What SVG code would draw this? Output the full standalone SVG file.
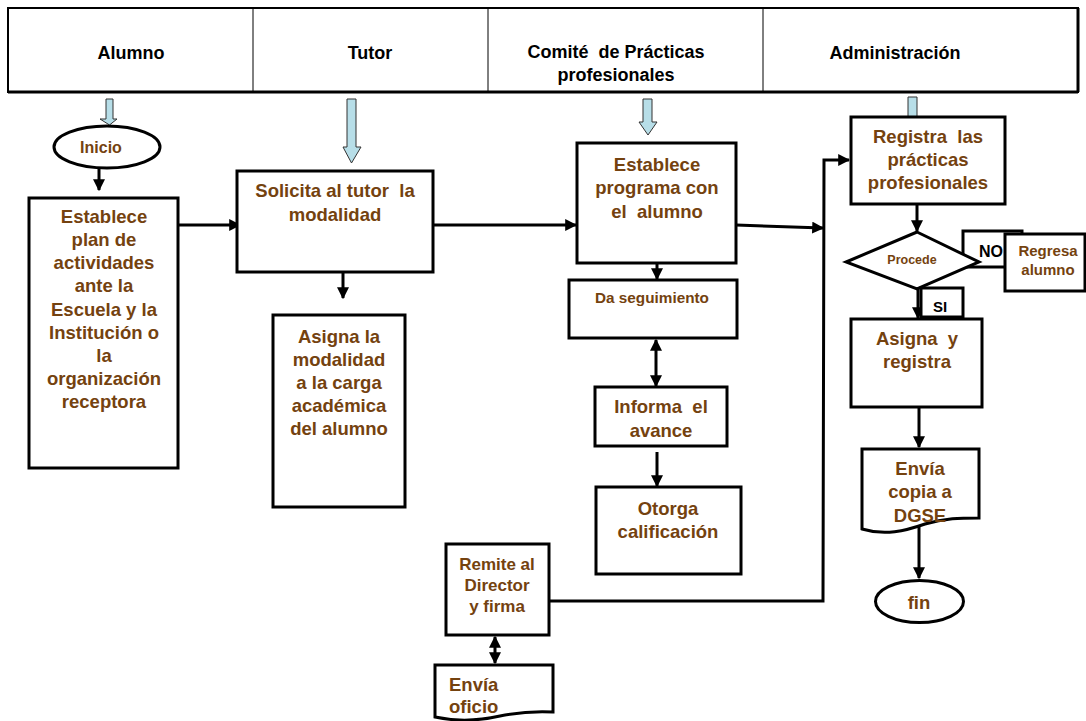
<svg xmlns="http://www.w3.org/2000/svg" width="1086" height="721" viewBox="0 0 1086 721">
<defs>
<marker id="ah" markerUnits="userSpaceOnUse" markerWidth="12" markerHeight="12" viewBox="0 0 10 10" refX="9" refY="5" orient="auto-start-reverse"><path d="M0,0 L10,5 L0,10 z" fill="#000"/></marker>
<style>
.box{fill:#fff;stroke:#000;stroke-width:3}
.t{font-family:"Liberation Sans",Arial,sans-serif;font-weight:bold;fill:#74420f;text-anchor:middle;white-space:pre}
.h{font-family:"Liberation Sans",Arial,sans-serif;font-weight:bold;fill:#000;text-anchor:middle;font-size:18px;white-space:pre}
.c{fill:none;stroke:#000;stroke-width:3}
.ba{fill:#b7dee8;stroke:#333;stroke-width:1}
</style>
</defs>
<rect width="1086" height="721" fill="#fff"/>
<g id="header">
<rect x="8" y="8" width="1070" height="84" fill="#fff" stroke="#000" stroke-width="2"/>
<line x1="8" y1="92" x2="1078" y2="92" stroke="#000" stroke-width="3"/>
<line x1="1078" y1="8" x2="1078" y2="92" stroke="#000" stroke-width="3"/>
<line x1="253" y1="8" x2="253" y2="92" stroke="#000" stroke-width="1"/>
<line x1="488" y1="8" x2="488" y2="92" stroke="#000" stroke-width="1"/>
<line x1="763" y1="8" x2="763" y2="92" stroke="#000" stroke-width="1"/>
<text class="h" x="131" y="59">Alumno</text>
<text class="h" x="370" y="59">Tutor</text>
<text class="h" x="616" y="58">Comité  de Prácticas</text>
<text class="h" x="616" y="81">profesionales</text>
<text class="h" x="895" y="59">Administración</text>
</g>
<g id="lane-arrows">
<polygon class="ba" points="106,99 113,99 113,119 117,119 109.5,125 100,119 106,119"/>
<polygon class="ba" points="347,99 356,99 356,147 361,147 351.5,163 343,147 347,147"/>
<polygon class="ba" points="643,99 652,99 652,122 657,122 648,135 639,122 643,122"/>
<polygon class="ba" points="908,97 917,97 917,117 920,117 912.5,123 905,117 908,117"/>
</g>
<g id="connectors">
<line class="c" x1="99" y1="168" x2="99" y2="190" marker-end="url(#ah)"/>
<line class="c" x1="178" y1="225" x2="240" y2="225" marker-end="url(#ah)"/>
<line class="c" x1="343" y1="272" x2="343" y2="298" marker-end="url(#ah)"/>
<line class="c" x1="433" y1="225" x2="576" y2="225" marker-end="url(#ah)"/>
<line class="c" x1="736" y1="225" x2="823" y2="228" marker-end="url(#ah)"/>
<path class="c" d="M549,601 L823,601 L824,160 L849,160" marker-end="url(#ah)"/>
<line class="c" x1="657" y1="263" x2="657" y2="279" marker-end="url(#ah)"/>
<line class="c" x1="656" y1="340" x2="656" y2="386" marker-start="url(#ah)" marker-end="url(#ah)"/>
<line class="c" x1="657" y1="452" x2="657" y2="486" marker-end="url(#ah)"/>
<line class="c" x1="495" y1="637" x2="495" y2="663" marker-start="url(#ah)" marker-end="url(#ah)"/>
<line class="c" x1="917" y1="204" x2="917" y2="231" marker-end="url(#ah)"/>
<line class="c" x1="979" y1="262" x2="1004" y2="262" marker-end="url(#ah)"/>
<line class="c" x1="918" y1="289" x2="918" y2="318" marker-end="url(#ah)"/>
<line class="c" x1="919" y1="407" x2="919" y2="447" marker-end="url(#ah)"/>
<line class="c" x1="919" y1="522" x2="919" y2="578" marker-end="url(#ah)"/>
</g>
<g id="inicio">
<ellipse class="box" cx="107" cy="147" rx="53" ry="21"/>
<text class="t" x="101" y="153" font-size="16">Inicio</text>
</g>
<g id="establece-plan">
<rect class="box" x="29" y="198" width="149" height="270"/>
<text class="t" font-size="18.5"><tspan x="104" y="223">Establece</tspan><tspan x="104" y="246">plan de</tspan><tspan x="104" y="269">actividades</tspan><tspan x="104" y="292">ante la</tspan><tspan x="104" y="316">Escuela y la</tspan><tspan x="104" y="339">Institución o</tspan><tspan x="104" y="362">la</tspan><tspan x="104" y="385">organización</tspan><tspan x="104" y="408">receptora</tspan></text>
</g>
<g id="solicita">
<rect class="box" x="237" y="171" width="196" height="101"/>
<text class="t" font-size="18.5"><tspan x="335" y="197">Solicita al tutor  la</tspan><tspan x="335" y="221">modalidad</tspan></text>
</g>
<g id="asigna-modalidad">
<rect class="box" x="273" y="315" width="132" height="192"/>
<text class="t" font-size="18.5"><tspan x="339" y="343">Asigna la</tspan><tspan x="339" y="366">modalidad</tspan><tspan x="339" y="389">a la carga</tspan><tspan x="339" y="412">académica</tspan><tspan x="339" y="435">del alumno</tspan></text>
</g>
<g id="establece-programa">
<rect class="box" x="577" y="143" width="159" height="120"/>
<text class="t" font-size="18.5"><tspan x="657" y="171">Establece</tspan><tspan x="657" y="194">programa con</tspan><tspan x="657" y="218">el  alumno</tspan></text>
</g>
<g id="da-seguimiento">
<rect class="box" x="569" y="280" width="168" height="58"/>
<text class="t" x="652" y="303" font-size="15.3">Da seguimiento</text>
</g>
<g id="informa">
<rect class="box" x="595" y="387" width="132" height="59"/>
<text class="t" font-size="18.5"><tspan x="661" y="413">Informa  el</tspan><tspan x="661" y="437">avance</tspan></text>
</g>
<g id="otorga">
<rect class="box" x="596" y="487" width="145" height="87"/>
<text class="t" font-size="18.5"><tspan x="668" y="515">Otorga</tspan><tspan x="668" y="538">calificación</tspan></text>
</g>
<g id="remite">
<rect class="box" x="446" y="544" width="103" height="91"/>
<text class="t" font-size="17"><tspan x="497" y="570">Remite al</tspan><tspan x="497" y="591">Director</tspan><tspan x="497" y="612">y firma</tspan></text>
</g>
<g id="envia-oficio">
<path class="box" d="M435,665 L553,665 L553,712 C535,711 520,712 500,716 C478,721 458,722 435,717 Z"/>
<text class="t" font-size="18.5" style="text-anchor:start"><tspan x="449" y="691">Envía</tspan><tspan x="449" y="713">oficio</tspan></text>
</g>
<g id="registra">
<rect class="box" x="851" y="117" width="154" height="87"/>
<text class="t" font-size="18.5"><tspan x="928" y="143">Registra  las</tspan><tspan x="928" y="166">prácticas</tspan><tspan x="928" y="189">profesionales</tspan></text>
</g>
<g id="no-label">
<rect x="963" y="231" width="59" height="36" fill="#fff" stroke="#000" stroke-width="3"/>
<text class="t" x="991" y="257" font-size="16" style="fill:#000">NO</text>
</g>
<g id="procede">
<polygon class="box" points="917,232 979,262 917,289 846,262"/>
<text class="t" x="912" y="264" font-size="12.5">Procede</text>
</g>
<g id="regresa">
<rect class="box" x="1005" y="234" width="80" height="57"/>
<text class="t" font-size="15"><tspan x="1048" y="256">Regresa</tspan><tspan x="1048" y="275">alumno</tspan></text>
</g>
<g id="si-label">
<rect x="921" y="288" width="42" height="29" fill="#fff" stroke="#000" stroke-width="3"/>
<text class="t" x="940" y="312" font-size="15" style="fill:#000">SI</text>
</g>
<g id="asigna-registra">
<rect class="box" x="851" y="319" width="131" height="88"/>
<text class="t" font-size="18.5"><tspan x="917" y="345">Asigna  y</tspan><tspan x="917" y="368">registra</tspan></text>
</g>
<g id="envia-copia">
<path class="box" d="M862,449 L979,449 L979,518 C960,518 945,518 925,524 C905,531 885,536 862,529 Z"/>
<text class="t" font-size="18.5"><tspan x="920" y="475">Envía</tspan><tspan x="920" y="498">copia a</tspan><tspan x="920" y="522">DGSE</tspan></text>
</g>
<g id="fin">
<ellipse class="box" cx="919.5" cy="601.5" rx="44" ry="21"/>
<text class="t" x="919" y="609" font-size="18.5">fin</text>
</g>
</svg>
